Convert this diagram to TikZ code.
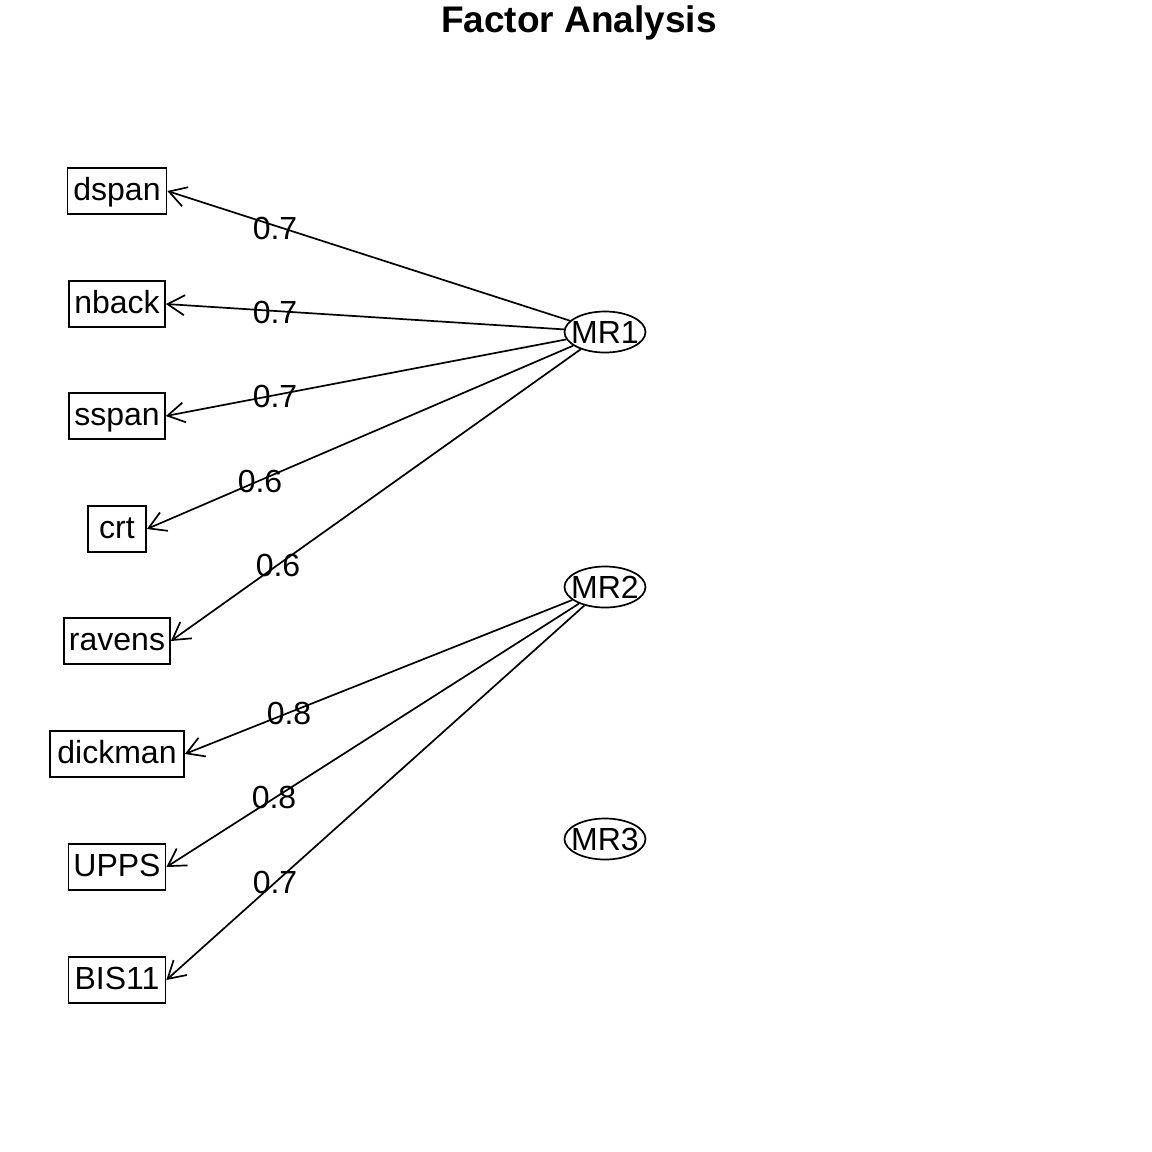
\documentclass[tikz,border=0pt]{standalone}
\usepackage{fontspec}
\setmainfont{Liberation Sans}
\usetikzlibrary{shapes.geometric,arrows.meta}
\newcommand{\fsz}{\fontsize{32}{37}\selectfont}
\begin{document}
\begin{tikzpicture}[x=1pt,y=-1pt,
  var/.style={draw, line width=1.7pt, font=\fsz, text height=24pt, text depth=6pt, inner xsep=5pt, inner ysep=8pt, minimum height=46pt},
  fac/.style={draw, ellipse, line width=1.7pt, font=\fsz, text height=23pt, text depth=0pt, minimum width=81pt, minimum height=41pt, inner xsep=-6pt, inner ysep=0pt},
  load/.style={line width=1.7pt, -{Straight Barb[length=17pt,width=20pt,line width=1.7pt]}},
  lab/.style={font=\fsz, inner sep=0pt, text height=23pt, text depth=0pt}]
\useasboundingbox (0,0) rectangle (1152,1152);
\node[font=\bfseries\fontsize{37}{42}\selectfont, anchor=base] (title) at (579,32) {Factor Analysis};

\node[var, minimum width=99pt] (dspan) at (117,191) {dspan};
\node[var, minimum width=96pt] (nback) at (117,304) {nback};
\node[var, minimum width=96pt] (sspan) at (117,416) {sspan};
\node[var, minimum width=58pt] (crt) at (117,529) {crt};
\node[var, minimum width=106pt] (ravens) at (117,641) {ravens};
\node[var, minimum width=134pt] (dickman) at (117,754) {dickman};
\node[var, minimum width=95pt] (UPPS) at (117,867) {UPPS};
\node[var, minimum width=97pt] (BIS11) at (117,980) {BIS11};

\node[fac] (MR1) at (605,332) {MR1};
\node[fac] (MR2) at (605,587) {MR2};
\node[fac] (MR3) at (605,839) {MR3};

\draw[load] (MR1) -- (dspan.east);
\draw[load] (MR1) -- (nback.east);
\draw[load] (MR1) -- (sspan.east);
\draw[load] (MR1) -- (crt.east);
\draw[load] (MR1) -- (ravens.east);
\draw[load] (MR2) -- (dickman.east);
\draw[load] (MR2) -- (UPPS.east);
\draw[load] (MR2) -- (BIS11.east);

\node[lab] (l1) at (275,228) {0.7};
\node[lab] (l2) at (275,312) {0.7};
\node[lab] (l3) at (275,396) {0.7};
\node[lab] (l4) at (260,481) {0.6};
\node[lab] (l5) at (278,565) {0.6};
\node[lab] (l6) at (289,713) {0.8};
\node[lab] (l7) at (274,797) {0.8};
\node[lab] (l8) at (275,882) {0.7};
\end{tikzpicture}
\end{document}
